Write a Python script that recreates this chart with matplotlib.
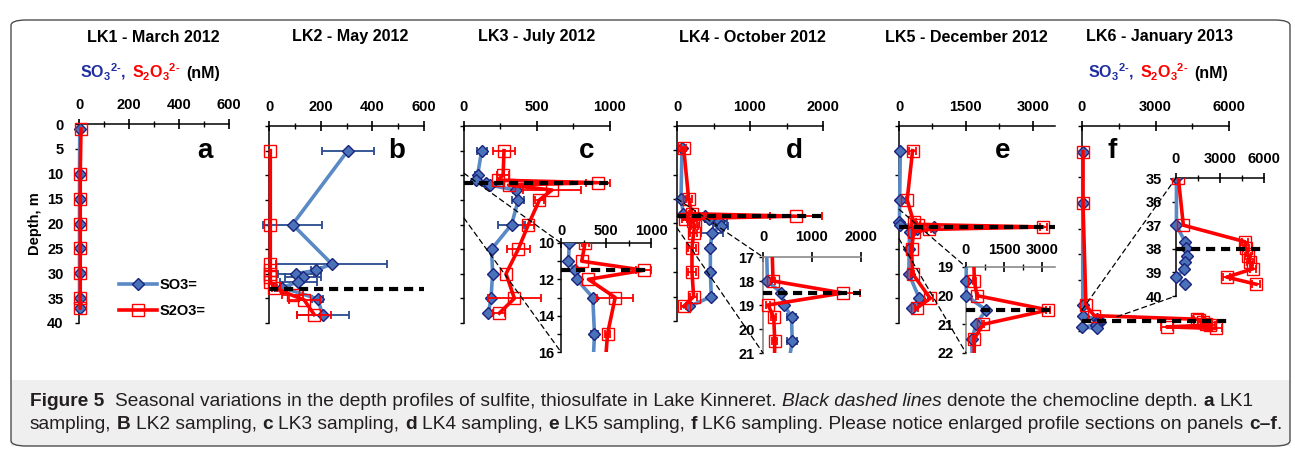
import numpy as np
import matplotlib
matplotlib.use("Agg")
import matplotlib.pyplot as plt
from matplotlib import font_manager
from matplotlib.lines import Line2D
from matplotlib.patches import FancyBboxPatch, Rectangle, ConnectionPatch
from matplotlib.ticker import FixedLocator
from matplotlib.offsetbox import TextArea, HPacker, AnnotationBbox

plt.rcParams["font.family"] = ["Liberation Sans", "DejaVu Sans"]
plt.rcParams["font.weight"] = "bold"
plt.rcParams["mathtext.fontset"] = "custom"
plt.rcParams["mathtext.rm"] = "Liberation Sans:bold"
plt.rcParams["mathtext.bf"] = "Liberation Sans:bold"
plt.rcParams["mathtext.it"] = "Liberation Sans:bold"

# ---------------- data: depth (m), concentration (nM) ----------------
titles = ["LK1 - March 2012", "LK2 - May 2012", "LK3 - July 2012",
          "LK4 - October 2012", "LK5 - December 2012", "LK6 - January 2013"]
letters = ["a", "b", "c", "d", "e", "f"]
chemocline = [None, 33.0, 11.5, 18.5, 20.5, 38.0]

# LK1
lk1_depth = [1, 10, 15, 20, 25, 30, 35, 37]
lk1_so3 = [3, 2, 2, 2, 2, 2, 2, 2]
lk1_so3_err = [0, 0, 0, 0, 0, 0, 0, 0]
lk1_s2o3 = [8, 5, 5, 5, 5, 5, 5, 5]
lk1_s2o3_err = [0, 0, 0, 0, 0, 0, 0, 0]

# LK2
lk2_depth_so3 = [5, 20, 28, 29.3, 30, 30.7, 31.6, 32.8, 35.1, 38.3]
lk2_so3 = [305, 91, 243, 182, 104, 130, 114, 52, 188, 208]
lk2_so3_err = [100, 115, 215, 20, 70, 70, 70, 30, 20, 100]
lk2_depth_s2o3 = [5, 20, 28, 29.3, 30, 30.7, 31.6, 32.8, 34.4, 35.3, 38.3]
lk2_s2o3 = [5, 5, 5, 5, 5, 5, 5, 20, 91, 136, 175]
lk2_s2o3_err = [0, 0, 0, 0, 0, 0, 0, 10, 40, 60, 65]

# LK3
lk3_depth = [5, 10, 11, 11.5, 12, 13, 15, 20, 25, 30, 35, 38]
lk3_so3 = [121, 93, 82, 150, 175, 353, 372, 326, 189, 196, 185, 167]
lk3_so3_err = [35, 20, 0, 0, 0, 20, 40, 95, 0, 0, 0, 0]
lk3_s2o3 = [274, 268, 230, 918, 305, 602, 517, 441, 372, 288, 345, 242]
lk3_s2o3_err = [75, 40, 0, 80, 0, 200, 30, 40, 80, 0, 180, 40]

# LK4
lk4_depth = [4.5, 15, 18, 18.5, 19, 19.5, 20.5, 22, 25, 30, 35, 37]
lk4_so3 = [68, 55, 89, 377, 432, 582, 596, 480, 457, 457, 470, 169]
lk4_so3_err = [20, 20, 20, 20, 50, 100, 100, 150, 30, 30, 30, 30]
lk4_s2o3 = [91, 160, 205, 1630, 103, 219, 240, 228, 205, 205, 228, 91]
lk4_s2o3_err = [30, 40, 40, 350, 40, 50, 50, 50, 50, 50, 50, 30]

# LK5
lk5_depth = [5, 15, 19.5, 20, 20.5, 21, 21.5, 25, 30, 35, 37]
lk5_so3 = [30, 15, 10, 13, 789, 395, 237, 228, 221, 457, 297]
lk5_so3_err = [0, 0, 0, 0, 60, 40, 30, 0, 0, 0, 0]
lk5_s2o3 = [305, 183, 329, 434, 3237, 671, 329, 282, 305, 700, 396]
lk5_s2o3_err = [80, 20, 60, 40, 80, 40, 40, 40, 40, 60, 40]

# LK6
lk6_depth = [5, 15, 35, 37, 37.7, 37.95, 38.3, 38.55, 38.85, 39.2, 39.5]
lk6_so3 = [30, 30, 30, 30, 614, 682, 727, 614, 568, 20, 614]
lk6_so3_err = [0, 0, 0, 0, 0, 0, 0, 0, 0, 0, 0]
lk6_s2o3 = [40, 40, 160, 500, 4700, 4770, 4930, 5045, 5227, 3455, 5455]
lk6_s2o3_err = [0, 0, 0, 0, 200, 200, 200, 200, 200, 250, 250]

# ---------------- styling ----------------
W, H = 1295, 449
SO3_LINE = "#5A8AC6"
SO3_FACE = "#4A72B8"
SO3_EDGE = "#1B237E"
SO3_ERR = "#264B8F"
RED = "#FF0000"
NAVY = "#1F2F9F"

SO3_STYLE = dict(color=SO3_LINE, lw=2.6, marker="D", ms=6.3, mfc=SO3_FACE,
                 mec=SO3_EDGE, mew=1)
S2O3_STYLE = dict(color=RED, lw=2.6, marker="s", ms=8.5, mfc="none",
                  mec=RED, mew=1)

fig = plt.figure(figsize=(W / 100, H / 100), dpi=100)


def px_axes(left, top, right, bottom):
    return fig.add_axes([left / W, 1 - bottom / H, (right - left) / W,
                         (bottom - top) / H])


def fig_xy(x, y):
    return x / W, 1 - y / H


def plot_series(ax, depth, values, err, style, ecolor, z):
    depth = np.asarray(depth, float)
    values = np.asarray(values, float)
    err = np.asarray(err, float)
    ax.plot(values, depth, zorder=z, **style)
    has = err > 0
    if has.any():
        ax.errorbar(values[has], depth[has], xerr=err[has], fmt="none",
                    ecolor=ecolor, elinewidth=1.3, capsize=3, capthick=1.3,
                    zorder=z - 0.5)


def clip_wide(ax, pad_x, pad_y):
    rect = Rectangle((-pad_x, -pad_y), 1 + 2 * pad_x, 1 + 2 * pad_y,
                     transform=ax.transAxes, facecolor="none", edgecolor="none")
    for art in list(ax.lines) + list(ax.collections):
        art.set_clip_path(rect)


def style_axes(ax, xlim, ylim, xmajor, xminor, ymajor, yminor, show_y,
               xpad, ypad, spine_color="black"):
    ax.set_xlim(*xlim)
    ax.set_ylim(*ylim)
    ax.patch.set_alpha(0)
    ax.xaxis.tick_top()
    for side in ("right", "bottom"):
        ax.spines[side].set_visible(False)
    for side in ("left", "top"):
        ax.spines[side].set_color(spine_color)
        ax.spines[side].set_linewidth(1.1)
    ax.xaxis.set_major_locator(FixedLocator(xmajor))
    ax.xaxis.set_minor_locator(FixedLocator(xminor))
    ax.yaxis.set_major_locator(FixedLocator(ymajor))
    ax.yaxis.set_minor_locator(FixedLocator(yminor))
    ax.tick_params(axis="x", which="major", direction="inout", length=7,
                   width=1.2, labelsize=10.5, pad=xpad)
    ax.tick_params(axis="x", which="minor", direction="inout", length=5,
                   width=1)
    ax.tick_params(axis="y", which="major", direction="out", length=3,
                   width=1, labelsize=10.5, pad=ypad, labelleft=show_y)
    ax.tick_params(axis="y", which="minor", direction="out", length=3,
                   width=1)
    ax.set_xticklabels([f"{v:g}" for v in xmajor])


def chemo_line(ax, depth):
    if depth is not None:
        ax.axhline(depth, color="black", ls=(0, (2.2, 1.4)), lw=3, zorder=6,
                   clip_on=False)


data = [
    (lk1_depth, lk1_so3, lk1_so3_err, lk1_depth, lk1_s2o3, lk1_s2o3_err),
    (lk2_depth_so3, lk2_so3, lk2_so3_err, lk2_depth_s2o3, lk2_s2o3, lk2_s2o3_err),
    (lk3_depth, lk3_so3, lk3_so3_err, lk3_depth, lk3_s2o3, lk3_s2o3_err),
    (lk4_depth, lk4_so3, lk4_so3_err, lk4_depth, lk4_s2o3, lk4_s2o3_err),
    (lk5_depth, lk5_so3, lk5_so3_err, lk5_depth, lk5_s2o3, lk5_s2o3_err),
    (lk6_depth, lk6_so3, lk6_so3_err, lk6_depth, lk6_s2o3, lk6_s2o3_err),
]

# main panels: pixel box, x range, ticks
main_layout = [
    ((79, 124, 229, 323), 600, [0, 200, 400, 600], [100, 300, 500]),
    ((269, 126, 424, 323), 600, [0, 200, 400, 600], [100, 300, 500]),
    ((464, 126, 610, 323), 1000, [0, 500, 1000], [250, 750]),
    ((677, 126, 823, 321), 2000, [0, 1000, 2000], [500, 1500]),
    ((899, 126, 1055, 323), 3500, [0, 1500, 3000], [750, 2250]),
    ((1082, 126, 1229, 331), 6000, [0, 3000, 6000], [1500, 4500]),
]
title_x = [153, 350, 537, 752, 966, 1159]
letter_x = [205, 397, 587, 794, 1003, 1112]

# enlarged sections: panel index, pixel box, x range, ticks, depth range
inset_layout = [
    (2, (561, 243, 651, 352), 1000, [0, 500, 1000], [250, 750], (16, 10),
     [10, 12, 14, 16], [11, 13, 15], "black", 0, 2),
    (3, (763, 257, 861, 353), 2000, [0, 1000, 2000], [], (21, 17),
     [17, 18, 19, 20, 21], [], "#808080", 6, 3),
    (4, (966, 267, 1055, 353), 3500, [0, 1500, 3000], [750, 2250], (22, 19),
     [19, 20, 21, 22], [], "#808080", 4, 6),
    (5, (1176, 178, 1264, 296), 6000, [0, 3000, 6000], [1500, 4500], (40, 35),
     [35, 36, 37, 38, 39, 40], [], "black", 5, 7),
]
# where the dashed guide lines leave each main panel (x, depth)
guide_start = {2: [(0, 9.6), (0, 18.7)], 3: [(0, 14.9), (0, 20.9)],
               4: [(0, 16.9), (0, 22.9)], 5: [(0, 35.9), (1430, 37.2)]}

main_axes = []
for i, (box, xmax, xmaj, xmin) in enumerate(main_layout):
    ax = px_axes(*box)
    style_axes(ax, (0, xmax), (40, 0), xmaj, xmin, list(range(0, 45, 5)), [],
               i == 0, 5, 8)
    d1, v1, e1, d2, v2, e2 = data[i]
    plot_series(ax, d1, v1, e1, SO3_STYLE, SO3_ERR, 4)
    plot_series(ax, d2, v2, e2, S2O3_STYLE, RED, 5)
    clip_wide(ax, 0.2, 0.1)
    chemo_line(ax, chemocline[i])
    main_axes.append(ax)
    fig.text(*fig_xy(title_x[i], 37), titles[i], ha="center", va="center",
             fontsize=11.6, fontweight="bold")
    fig.text(*fig_xy(letter_x[i], 158), letters[i], ha="center",
             va="baseline", fontsize=20, fontweight="bold")

main_axes[0].set_ylabel("Depth, m", fontsize=10.5, fontweight="bold",
                        labelpad=4)

for (idx, box, xmax, xmaj, xmin, ylim, ymaj, ymin, scol, xpad,
     ypad) in inset_layout:
    ax = px_axes(*box)
    style_axes(ax, (0, xmax), ylim, xmaj, xmin, ymaj, ymin, True, xpad, ypad,
               spine_color=scol)
    d1, v1, e1, d2, v2, e2 = data[idx]
    plot_series(ax, d1, v1, e1, SO3_STYLE, SO3_ERR, 4)
    plot_series(ax, d2, v2, e2, S2O3_STYLE, RED, 5)
    clip_wide(ax, 0.15, 0.0)
    chemo_line(ax, chemocline[idx])
    for (gx, gy), corner in zip(guide_start[idx], [(0, 1), (0, 0)]):
        con = ConnectionPatch(xyA=(gx, gy), coordsA=main_axes[idx].transData,
                              xyB=corner, coordsB=ax.transAxes,
                              ls=(0, (4, 3)), lw=0.9, color="black")
        fig.add_artist(con)

# legend inside panel a
handles = [Line2D([], [], **SO3_STYLE), Line2D([], [], **S2O3_STYLE)]
main_axes[0].legend(handles, ["SO3=", "S2O3="], loc="center left",
                    bbox_to_anchor=fig_xy(112, 298),
                    bbox_transform=fig.transFigure, frameon=False,
                    handlelength=2.6, handletextpad=0.15, labelspacing=0.85,
                    borderpad=0, prop=dict(size=10.5, weight="bold"))

# concentration header above first and last panel
for cx in (150, 1158):
    parts = [TextArea(r"$\mathbf{SO_3}$$^{\mathbf{2}\text{-}}$,",
                      textprops=dict(color=NAVY, fontsize=11.5)),
             TextArea(r"$\mathbf{S_2O_3}$$^{\mathbf{2}\text{-}}$",
                      textprops=dict(color=RED, fontsize=11.5)),
             TextArea("(nM)", textprops=dict(color="black", fontsize=11.5))]
    pack = HPacker(children=parts, sep=4, align="baseline", pad=0)
    ab = AnnotationBbox(pack, fig_xy(cx, 72), xycoords="figure fraction",
                        frameon=False, box_alignment=(0.5, 0.5), pad=0)
    fig.add_artist(ab)

# frame and caption band
fig.add_artist(Rectangle(fig_xy(11, 446), (1290 - 11) / W, (446 - 380) / H,
                         transform=fig.transFigure, facecolor="#EFEFEF",
                         edgecolor="none", zorder=-2))
fig.add_artist(FancyBboxPatch(fig_xy(11, 446), (1290 - 11) / W, (446 - 20) / H,
                              boxstyle="round,pad=0,rounding_size=0.012",
                              transform=fig.transFigure, facecolor="none",
                              edgecolor="#4D4D4D", lw=1, zorder=-1))

names = {f.name for f in font_manager.fontManager.ttflist}
cap_font = "Liberation Sans Narrow" if "Liberation Sans Narrow" in names else "Liberation Sans"
renderer = fig.canvas.get_renderer()


def text_width(s, size, weight="normal", style="normal"):
    t = fig.text(0, 0, s, fontsize=size, fontweight=weight, fontstyle=style,
                 family=cap_font)
    w = t.get_window_extent(renderer).width
    t.remove()
    return w


def draw_runs(x, y, runs, size):
    space = text_width("a a", size) - text_width("aa", size)
    for s, weight, style in runs:
        lead = len(s) - len(s.lstrip(" "))
        trail = len(s) - len(s.rstrip(" "))
        x += lead * space
        core = s.strip(" ")
        if core:
            t = fig.text(x / W, 1 - y / H, core, fontsize=size,
                         fontweight=weight, fontstyle=style, family=cap_font,
                         color="#231F20", va="baseline", ha="left")
            x += t.get_window_extent(renderer).width
        x += trail * space
    return x


N, B, I = "normal", "bold", "italic"
line1 = [("Figure 5", B, N),
         ("  Seasonal variations in the depth profiles of sulfite, thiosulfate in Lake Kinneret. ", N, N),
         ("Black dashed lines", N, I),
         (" denote the chemocline depth. ", N, N), ("a", B, N), (" LK1", N, N)]
line2 = [("sampling, ", N, N), ("B", B, N), (" LK2 sampling, ", N, N),
         ("c", B, N), (" LK3 sampling, ", N, N), ("d", B, N),
         (" LK4 sampling, ", N, N), ("e", B, N), (" LK5 sampling, ", N, N),
         ("f", B, N),
         (" LK6 sampling. Please notice enlarged profile sections on panels ", N, N),
         ("c–f", B, N), (".", N, N)]

# fit the caption lines to the frame width
probe = sum(text_width(s, 10, w, st) for s, w, st in line1)
cap_size = 10 * (1262 - 30) / probe
draw_runs(30, 406, line1, cap_size)
draw_runs(30, 429, line2, cap_size)

fig.savefig("out.png", dpi=100)
